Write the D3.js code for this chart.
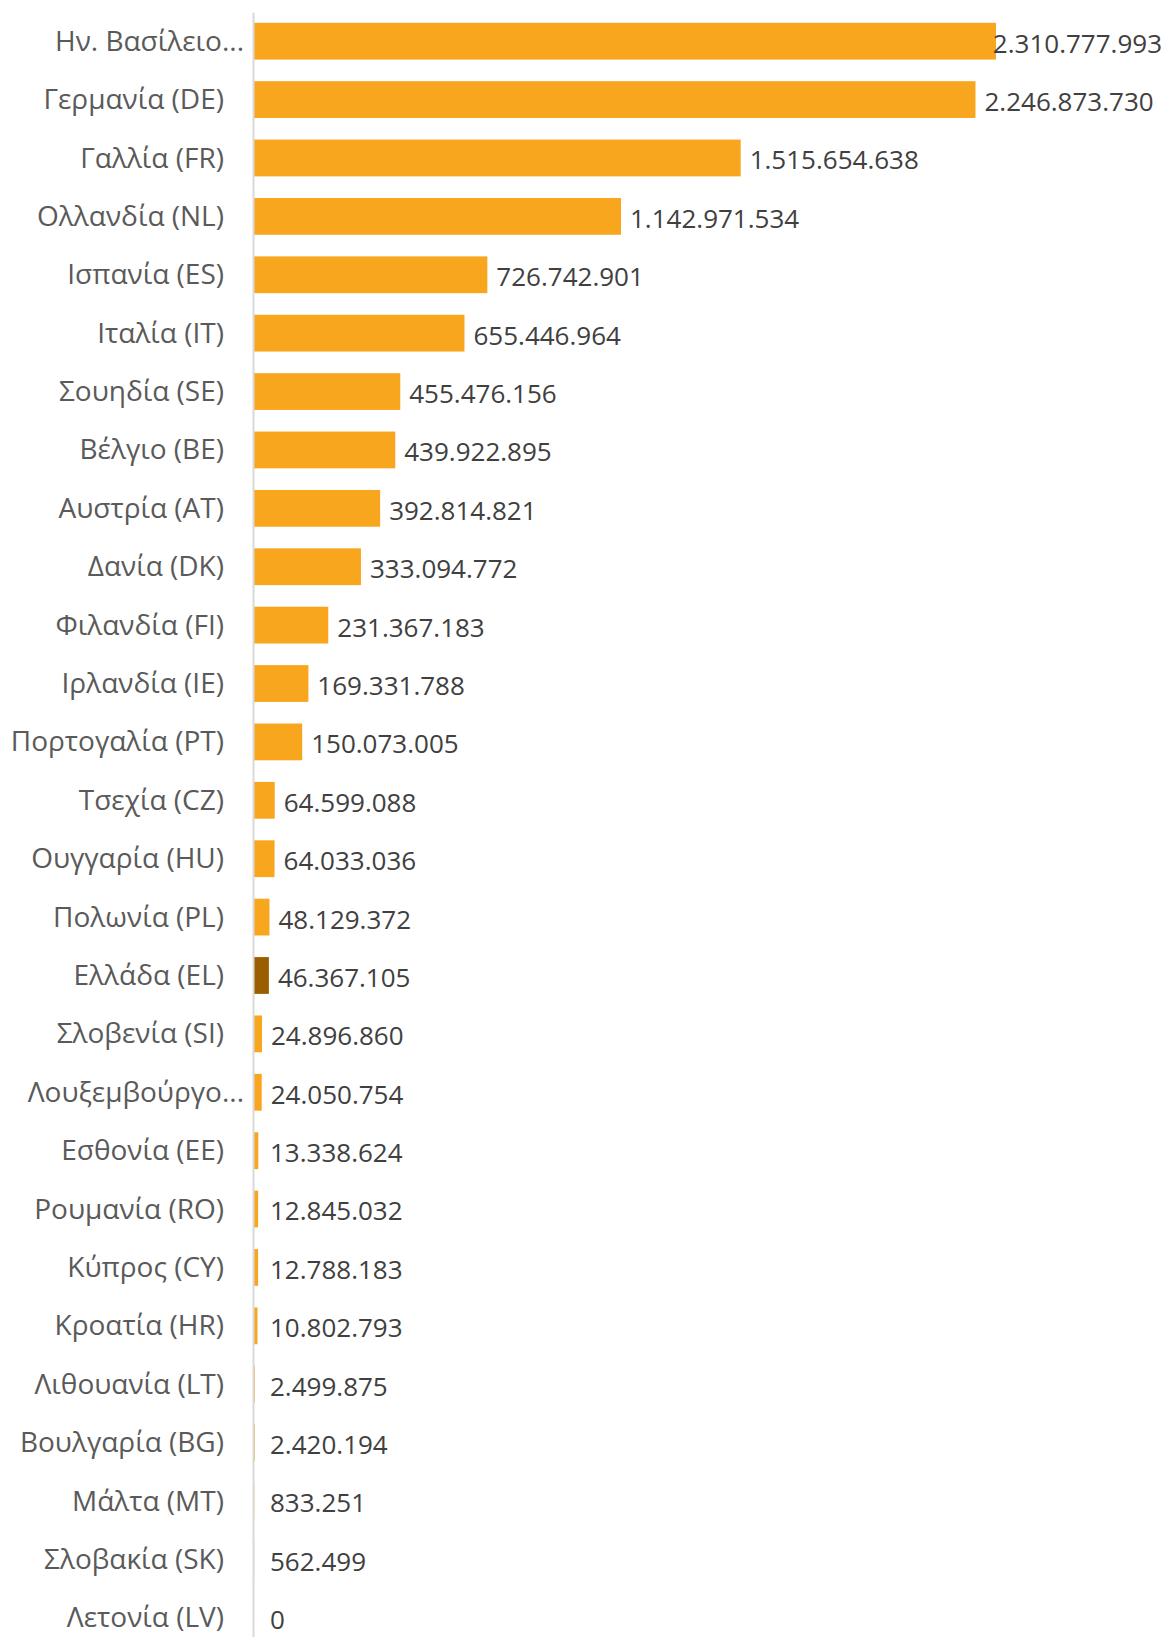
<!DOCTYPE html>
<html>
<head>
<meta charset="utf-8">
<script src="https://cdn.jsdelivr.net/npm/d3@7"></script>
<style>
  html, body { margin: 0; padding: 0; background: #ffffff; }
  svg { display: block; }
  text { font-family: "Open Sans", "Noto Sans", sans-serif; }
</style>
</head>
<body>
<svg id="chart" width="1167" height="1637"></svg>
<script>
const categories = [
  "Ην. Βασίλειο...", "Γερμανία (DE)", "Γαλλία (FR)", "Ολλανδία (NL)", "Ισπανία (ES)",
  "Ιταλία (IT)", "Σουηδία (SE)", "Βέλγιο (BE)", "Αυστρία (AT)", "Δανία (DK)",
  "Φιλανδία (FI)", "Ιρλανδία (IE)", "Πορτογαλία (PT)", "Τσεχία (CZ)", "Ουγγαρία (HU)",
  "Πολωνία (PL)", "Ελλάδα (EL)", "Σλοβενία (SI)", "Λουξεμβούργο...", "Εσθονία (EE)",
  "Ρουμανία (RO)", "Κύπρος (CY)", "Κροατία (HR)", "Λιθουανία (LT)", "Βουλγαρία (BG)",
  "Μάλτα (MT)", "Σλοβακία (SK)", "Λετονία (LV)"
];
const values = [
  2310777993, 2246873730, 1515654638, 1142971534, 726742901,
  655446964, 455476156, 439922895, 392814821, 333094772,
  231367183, 169331788, 150073005, 64599088, 64033036,
  48129372, 46367105, 24896860, 24050754, 13338624,
  12845032, 12788183, 10802793, 2499875, 2420194,
  833251, 562499, 0
];
const highlighted = ["Ελλάδα (EL)"];

const W = 1167, H = 1637;
const axisX = 253;
const svg = d3.select("#chart");

const data = categories.map((c, i) => ({ cat: c, val: values[i] }));

const y = d3.scaleBand()
  .domain(categories)
  .range([12, 1647])
  .paddingInner(0.37)
  .paddingOuter(0.185);

const x = d3.scaleLinear()
  .domain([0, d3.max(values)])
  .range([axisX + 1, 996]);

const locale = d3.formatLocale({ decimal: ",", thousands: ".", grouping: [3], currency: ["", "€"] });
const fmt = locale.format(",d");

// bars
svg.append("g").selectAll("rect")
  .data(data)
  .join("rect")
  .attr("x", x(0))
  .attr("y", d => y(d.cat))
  .attr("width", d => Math.max(0, x(d.val) - x(0)))
  .attr("height", y.bandwidth())
  .attr("fill", d => highlighted.includes(d.cat) ? "#9A5E00" : "#F8A61E");

// axis
const axis = d3.axisLeft(y).tickSize(0).tickSizeOuter(0).tickPadding(29);
const gAxis = svg.append("g").attr("transform", `translate(${axisX},0)`).call(axis);
gAxis.select(".domain").attr("stroke", "#d9d9d9").attr("stroke-width", 2);
gAxis.selectAll(".tick text")
  .attr("font-size", 28)
  .attr("fill", "#5a5a5a")
  .attr("font-family", "'Open Sans', sans-serif")
  .attr("dy", "0.34em")
  .attr("x", d => d.endsWith("...") ? -9 : -29);

// value labels
svg.append("g").selectAll("text")
  .data(data)
  .join("text")
  .attr("font-size", 26)
  .attr("fill", "#404040")
  .attr("y", d => y(d.cat) + y.bandwidth() / 2)
  .attr("dy", "0.44em")
  .text(d => fmt(d.val))
  .each(function(d) {
    const tw = this.getComputedTextLength();
    let lx = Math.max(x(d.val) + 9, 270);
    if (lx + tw > W - 5) lx = W - 5 - tw;
    d3.select(this).attr("x", lx);
  });
</script>
</body>
</html>
